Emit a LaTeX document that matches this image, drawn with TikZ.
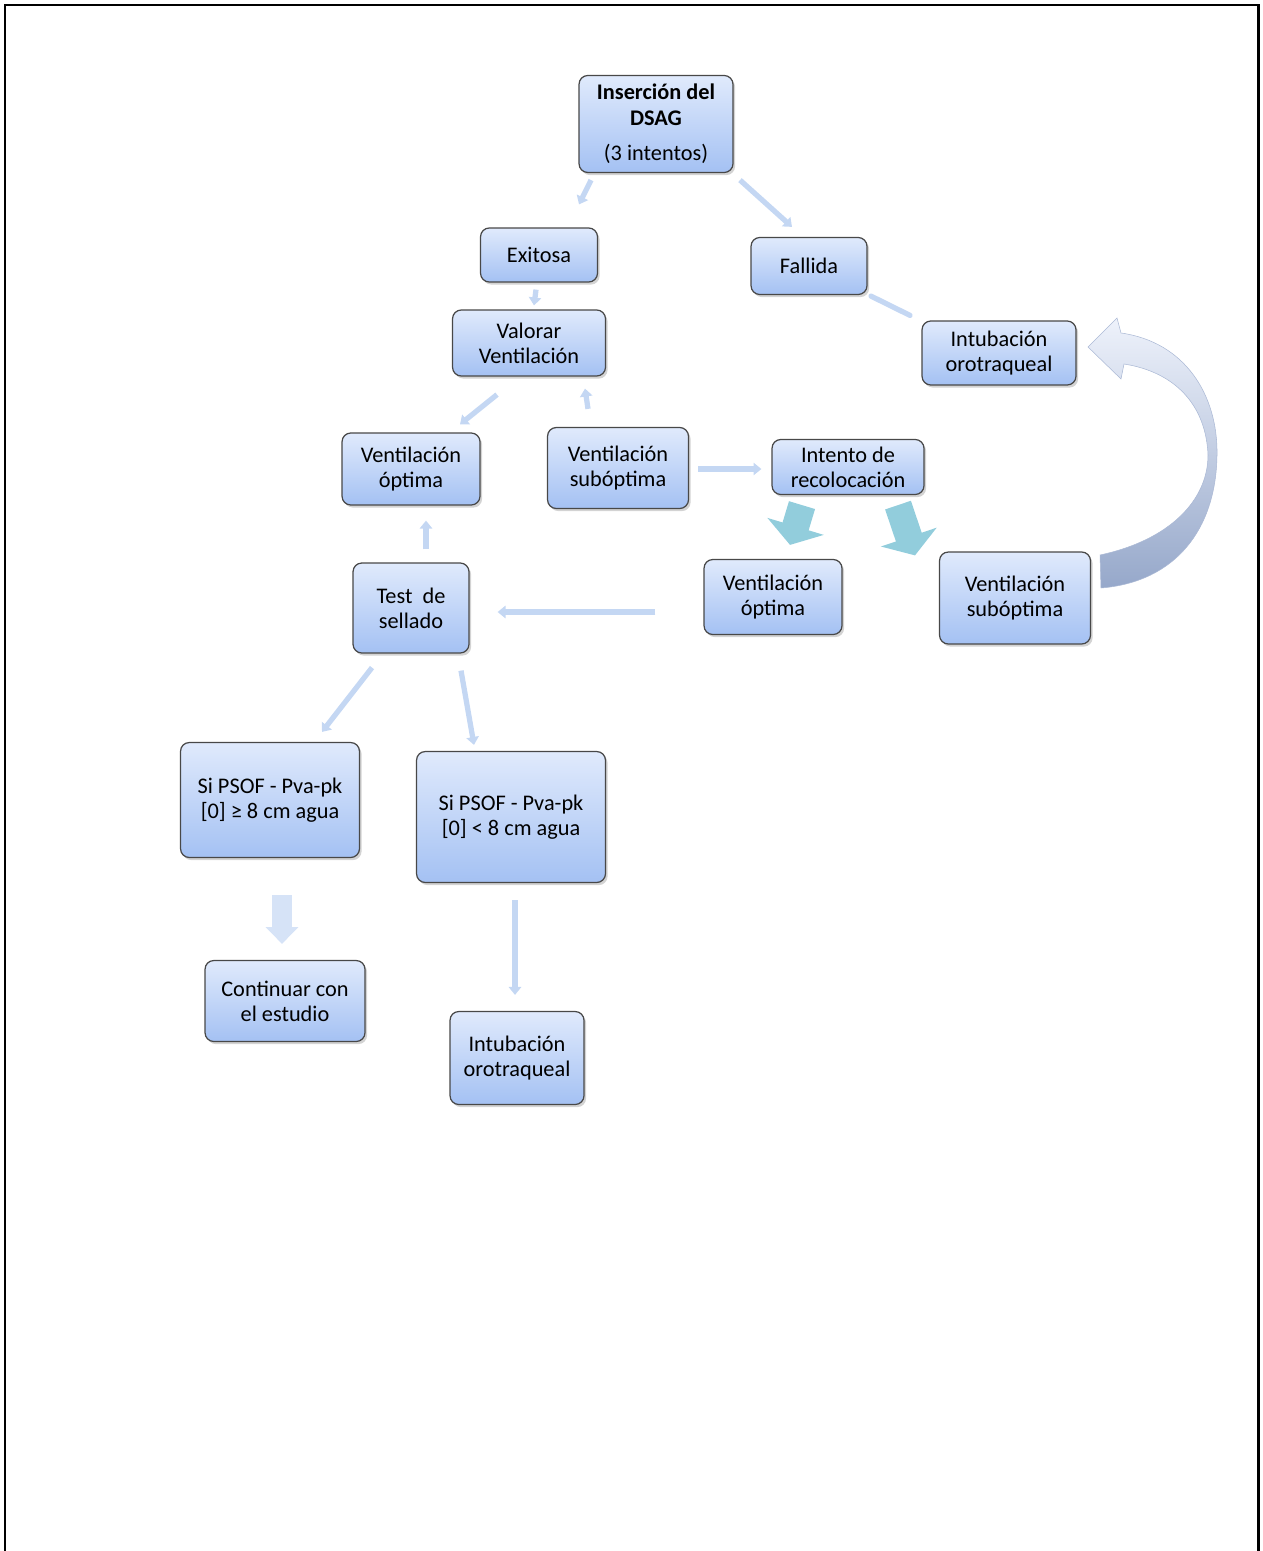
\documentclass[tikz,border=0pt]{standalone}
\usepackage{fontspec}
\setmainfont{Carlito}
\usetikzlibrary{arrows.meta,shadows}

\definecolor{cajaarriba}{RGB}{224,234,252}
\definecolor{cajaabajo}{RGB}{164,193,243}
\definecolor{cajaborde}{RGB}{72,72,72}
\definecolor{flechaazul}{RGB}{196,215,243}
\definecolor{flechaclara}{RGB}{214,227,247}
\definecolor{turquesa}{RGB}{146,205,220}
\definecolor{curvaarriba}{RGB}{238,242,251}
\definecolor{curvaabajo}{RGB}{150,168,202}

\begin{document}
\begin{tikzpicture}[
  x=0.02cm, y=-0.02cm,
  font=\fontsize{12.7}{14.3}\selectfont,
  caja/.style={draw=cajaborde, line width=0.7pt, rounded corners=5pt,
    top color=cajaarriba, bottom color=cajaabajo, align=center, inner sep=2pt,
    drop shadow={opacity=0.35, shadow xshift=1.2pt, shadow yshift=-1.5pt}},
  flecha/.style={draw=flechaazul, line width=3pt, -{Triangle[width=7pt,length=4.5pt]}},
  linea/.style={draw=flechaazul, line width=3pt, line cap=round},
  turq/.style={draw=turquesa, line width=15.5pt, -{Triangle[width=33pt,length=11pt]}},
  gruesa/.style={draw=flechaclara, line width=11pt, -{Triangle[width=18pt,length=9.5pt]}}
]
  \useasboundingbox (0,0) rectangle (1262,1551);
  \draw[line width=1.7pt] (5,1551) -- (5,5) -- (1258,5) -- (1258,1551);

  % upper part
  \node[caja, minimum width=3.08cm, minimum height=1.94cm] (insercion) at (656,124)
    {\textbf{Inserción del}\\\textbf{DSAG}\\[6pt](3 intentos)};
  \node[caja, minimum width=2.34cm, minimum height=1.08cm] (exitosa) at (539,255) {Exitosa};
  \node[caja, minimum width=2.32cm, minimum height=1.14cm] (fallida) at (809,266) {Fallida};
  \node[caja, minimum width=3.08cm, minimum height=1.28cm] (intuba) at (999,353)
    {Intubación\\orotraqueal};
  \node[caja, minimum width=3.06cm, minimum height=1.32cm] (valorar) at (529,343)
    {Valorar\\Ventilación};

  % ventilation
  \node[caja, minimum width=2.76cm, minimum height=1.44cm] (vopt) at (411,469)
    {Ventilación\\óptima};
  \node[caja, minimum width=2.82cm, minimum height=1.62cm] (vsub) at (618,468)
    {Ventilación\\subóptima};
  \node[caja, minimum width=3.04cm, minimum height=1.10cm] (intento) at (848,467)
    {Intento de\\recolocación};
  \node[caja, minimum width=2.76cm, minimum height=1.50cm] (voptb) at (773,597)
    {Ventilación\\óptima};
  \node[caja, minimum width=3.02cm, minimum height=1.84cm] (vsubb) at (1015,598)
    {Ventilación\\subóptima};
  \node[caja, minimum width=2.32cm, minimum height=1.80cm] (test) at (411,608)
    {Test\ \ de\\sellado};

  % lower part
  \node[caja, minimum width=3.58cm, minimum height=2.30cm] (sige) at (270,800)
    {Si PSOF - Pva-pk\\{}[0] ≥ 8 cm agua};
  \node[caja, minimum width=3.78cm, minimum height=2.62cm] (silt) at (511,817)
    {Si PSOF - Pva-pk\\{}[0] < 8 cm agua};
  \node[caja, minimum width=3.20cm, minimum height=1.62cm] (continuar) at (285,1001)
    {Continuar con\\el estudio};
  \node[caja, minimum width=2.68cm, minimum height=1.86cm] (intubb) at (517,1058)
    {Intubación\\orotraqueal};

  % connectors
  \draw[flecha] ([shift={(-65,7)}]insercion.south) -- ([shift={(40,-23)}]exitosa.north);
  \draw[flecha] ([shift={(84,7)}]insercion.south) -- ([shift={(-17,-10)}]fallida.north);
  \draw[flecha] ([shift={(-3,7)}]exitosa.south) -- ([shift={(5,-4)}]valorar.north);
  \draw[linea] ([shift={(62,1)}]fallida.south) -- ([shift={(-89,-5)}]intuba.north);
  \draw[flecha] ([shift={(-32,18)}]valorar.south) -- ([shift={(49,-8)}]vopt.north);
  \draw[flecha] ([shift={(-30,-18)}]vsub.north) -- ([shift={(56,12)}]valorar.south);
  \draw[flecha] ([shift={(15,-13)}]test.north) -- ([shift={(15,15)}]vopt.south);
  \draw[flecha] ([shift={(9,1)}]vsub.east) -- ([shift={(-10,2)}]intento.west);
  \draw[turq] ([shift={(-46,10)}]intento.south) -- ([shift={(17,-14)}]voptb.north);
  \draw[turq] ([shift={(50,10)}]intento.south) -- ([shift={(-100,4)}]vsubb.north);
  \draw[flecha] ([shift={(-48,15)}]voptb.west) -- ([shift={(28,4)}]test.east);
  \draw[flecha] ([shift={(-39,14)}]test.south) -- ([shift={(52,-10)}]sige.north);
  \draw[flecha] ([shift={(50,17)}]test.south) -- ([shift={(-37,-6)}]silt.north);
  \draw[gruesa] ([shift={(12,37)}]sige.south) -- ([shift={(-3,-16)}]continuar.north);
  \draw[flecha] ([shift={(4,17)}]silt.south) -- ([shift={(-2,-16)}]intubb.north);

  % curved arrow back to intubation
  \shade[top color=curvaarriba, bottom color=curvaabajo, draw=curvaabajo!80, line width=0.3pt]
    (1100,555) .. controls (1170,540) and (1208,500) .. (1208,455)
    .. controls (1206,405) and (1175,372) .. (1124,364)
    -- (1121,379) -- (1088,347) -- (1117,318) -- (1121,333)
    .. controls (1185,342) and (1218,395) .. (1217,455)
    .. controls (1216,530) and (1175,582) .. (1101,588) -- cycle;
\end{tikzpicture}
\end{document}
